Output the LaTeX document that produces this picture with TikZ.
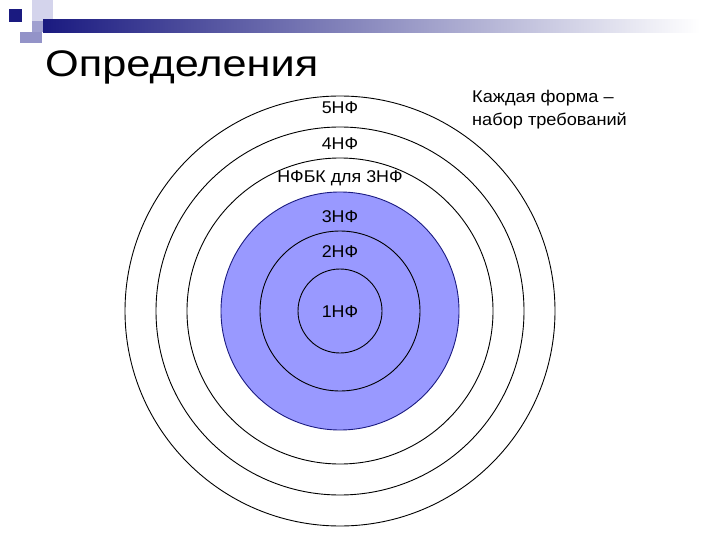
\documentclass[tikz,border=0pt]{standalone}
\usepackage{fontspec}
\setmainfont{Liberation Sans}
\newfontfamily\titlefont[FakeStretch=1.17]{Liberation Sans}
\newfontfamily\lblfont[FakeStretch=1.05]{Liberation Sans}
\newfontfamily\notefont[FakeStretch=1.07]{Liberation Sans}
\definecolor{ringblue}{RGB}{153,153,255}
\definecolor{navy}{RGB}{26,26,128}
\definecolor{palelav}{RGB}{212,212,236}
\definecolor{midlav}{RGB}{160,160,208}
\begin{document}
\begin{tikzpicture}[x=1pt,y=-1pt,
  ring/.style={circle,draw=black,line width=0.9pt,inner sep=0pt},
  lbl/.style={font=\lblfont\fontsize{17}{20}\selectfont,inner sep=0pt}]
\useasboundingbox (0,0) rectangle (720,540);
% template decoration
\fill[palelav] (32,0) rectangle (53,21);
\fill[midlav] (32,21) rectangle (43,32);
\fill[midlav!90!navy] (20,32) rectangle (42,43);
\shade[left color=navy,right color=white] (43,20) rectangle (700,33);
\fill[navy] (9,9) rectangle (22,22);
% circles
\coordinate (c) at (340,311);
\node[ring,minimum size=430pt] (r5) at (c) {};
\node[ring,minimum size=368pt] (r4) at (c) {};
\node[ring,minimum size=306pt] (rb) at (c) {};
\node[ring,draw=navy,fill=ringblue,minimum size=238pt] (r3) at (c) {};
\node[ring,minimum size=160pt] (r2) at (c) {};
\node[ring,minimum size=84pt] (r1) at (c) {};
% labels
\node[lbl] (l5) at (340,108) {5НФ};
\node[lbl] (l4) at (340,144) {4НФ};
\node[lbl] (lb) at (340,178) {НФБК для 3НФ};
\node[lbl] (l3) at (340,217) {3НФ};
\node[lbl] (l2) at (340,252) {2НФ};
\node[lbl] (l1) at (340,312) {1НФ};
% title
\node[anchor=base west,inner sep=0pt,font=\titlefont\fontsize{37}{44}\selectfont] (title) at (45,77) {Определения};
% note
\node[anchor=base west,inner sep=0pt,align=left,font=\notefont\fontsize{17}{23}\selectfont] (note) at (472,126) {Каждая форма –\\набор требований};
\end{tikzpicture}
\end{document}
